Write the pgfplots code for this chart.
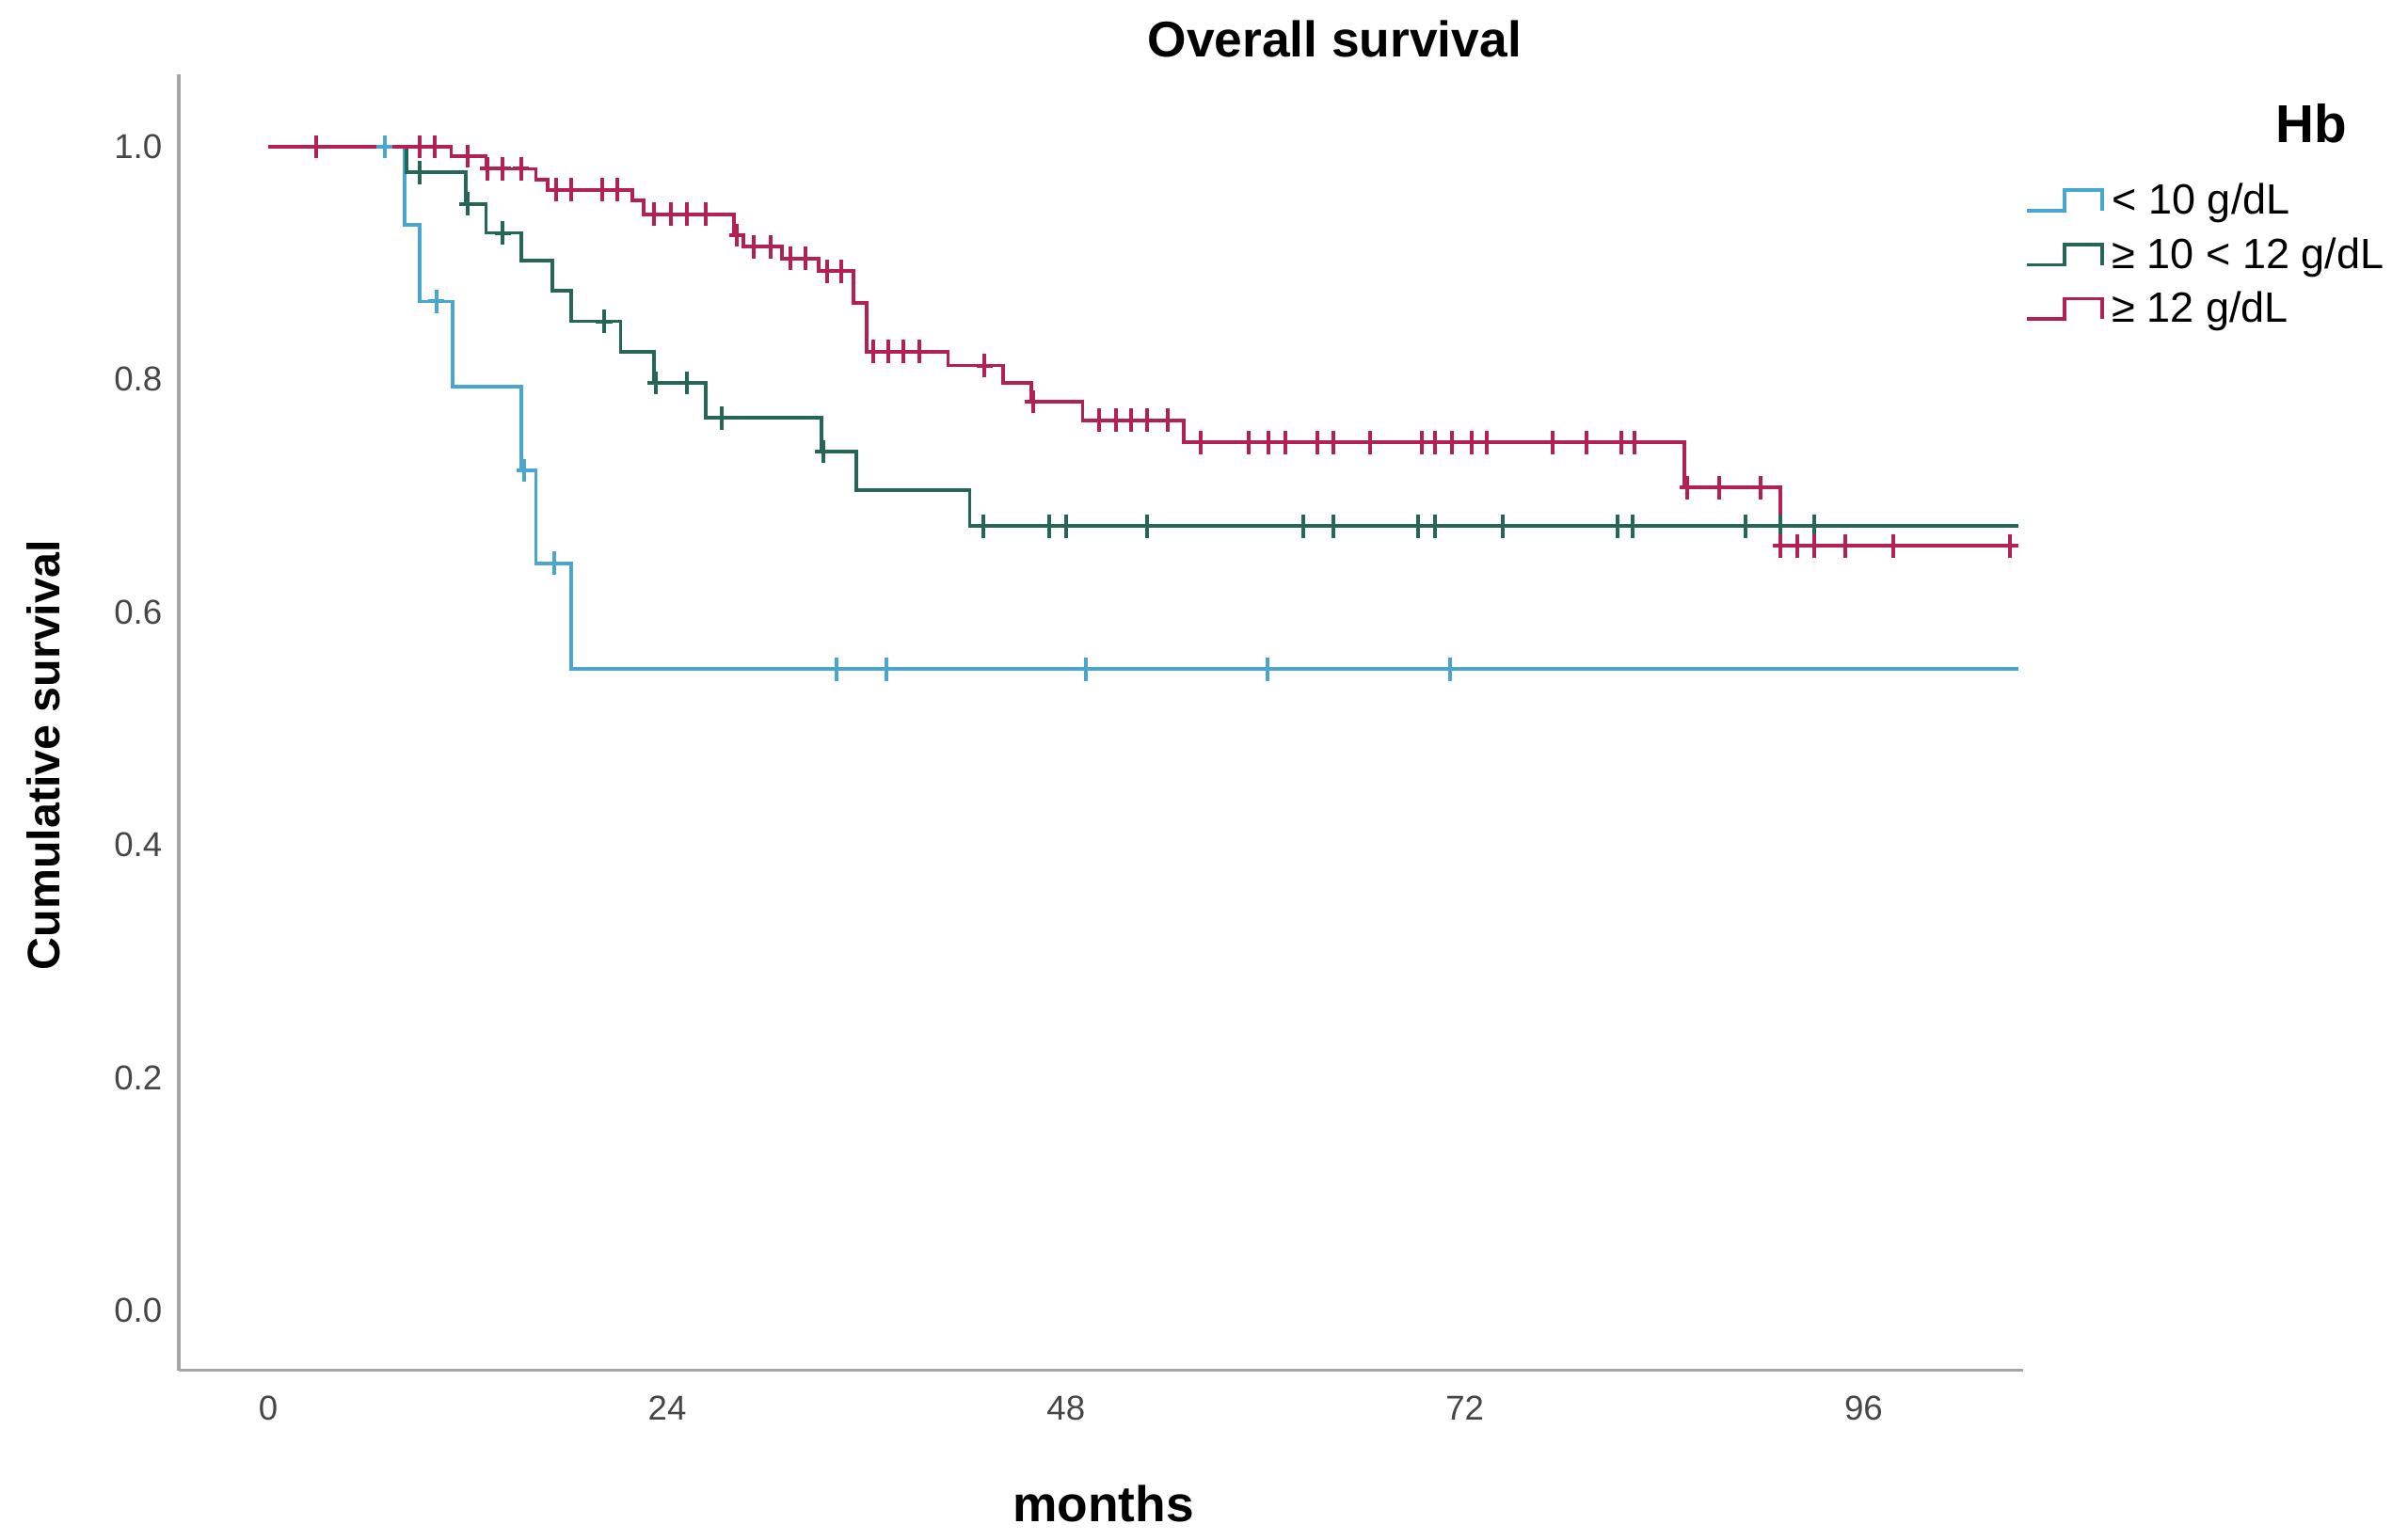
\documentclass[border=0pt]{standalone}
\usepackage{fontspec}
\setmainfont{Liberation Sans}
\usepackage{pgfplots}
\pgfplotsset{compat=1.18}
\definecolor{kmblue}{RGB}{72,166,208}
\definecolor{kmgreen}{RGB}{38,102,86}
\definecolor{kmred}{RGB}{178,32,84}
\definecolor{axgray}{RGB}{165,165,165}
\definecolor{tickgray}{RGB}{70,70,70}
\begin{document}
\begin{tikzpicture}
\path[use as bounding box] (0,0) rectangle (767.7pt,490.8pt);
\begin{axis}[
  at={(57pt,53.8pt)}, anchor=south west,
  scale only axis, width=588pt, height=413.4pt,
  xmin=-5.39, xmax=105.6, ymin=-0.0515, ymax=1.0625,
  axis lines=left,
  axis line style={-, draw=axgray, line width=1pt},
  xtick={0,24,48,72,96}, ytick={0,0.2,0.4,0.6,0.8,1.0},
  major tick length=0pt,
  tick label style={font=\fontsize{11}{13}\selectfont, text=tickgray},
  /pgf/number format/assume math mode=true,
  yticklabel style={/pgf/number format/fixed, /pgf/number format/fixed zerofill, /pgf/number format/precision=1, xshift=-1.8pt},
  xticklabel style={yshift=-4.7pt},
  legend image code/.code={
    \draw[#1] (0pt,-3.25pt) -- (12pt,-3.25pt) -- (12pt,3.25pt) -- (24pt,3.25pt) -- (24pt,-3.25pt);
  },
  legend cell align=left,
  legend style={at={(1.0011,0.9234)}, anchor=north west, draw=none, fill=none,
    inner sep=0pt, outer sep=0pt, row sep=0pt,
    font=\fontsize{13.5}{16}\selectfont,
    nodes={inner sep=0pt, text height=13pt, text depth=4.3pt},
    /tikz/every odd column/.append style={column sep=2.6pt}},
  every axis plot/.append style={line width=1.15pt},
  censor/.style={only marks, mark=+, mark size=3.7pt, mark options={xscale=0.7, line width=1.2pt}},
]
% < 10 g/dL
\addplot[kmblue, const plot] coordinates {
 (0,1.0) (8.2,0.933) (9.1,0.867) (11.1,0.794) (15.2,0.722) (16.1,0.642) (18.2,0.551) (105.3,0.551)};
\addlegendentry{< 10 g/dL}
% >= 10 < 12 g/dL
\addplot[kmgreen, const plot] coordinates {
 (0,1.0) (8.3,0.978) (11.9,0.951) (13.1,0.926) (15.2,0.902) (17.1,0.876) (18.2,0.850)
 (21.2,0.824) (23.2,0.797) (26.3,0.767) (33.3,0.738) (35.4,0.705) (42.2,0.674) (105.3,0.674)};
\addlegendentry{≥ 10 < 12 g/dL}
% >= 12 g/dL
\addplot[kmred, const plot] coordinates {
 (0,1.0) (11.0,0.992) (13.1,0.981) (16.1,0.972) (16.8,0.963) (21.9,0.954) (22.6,0.942)
 (28.0,0.924) (28.6,0.914) (30.9,0.904) (33.1,0.893) (35.2,0.866) (36.0,0.824)
 (40.9,0.812) (44.2,0.797) (45.9,0.781) (49.0,0.765) (55.1,0.746) (85.2,0.707)
 (91.0,0.657) (105.3,0.657)};
\addlegendentry{≥ 12 g/dL}
% censored
\addplot[kmblue, censor, forget plot] coordinates {
 (7.0,1.0) (10.1,0.867) (15.4,0.722) (17.2,0.642) (34.2,0.551) (37.2,0.551)
 (49.2,0.551) (60.1,0.551) (71.1,0.551)};
\addplot[kmgreen, censor, forget plot] coordinates {
 (9.1,0.978) (12.0,0.951) (14.1,0.926) (20.2,0.850) (23.3,0.797) (25.2,0.797)
 (27.3,0.767) (33.4,0.738) (43.0,0.674) (47.0,0.674) (48.0,0.674) (52.9,0.674)
 (62.3,0.674) (64.1,0.674) (69.2,0.674) (70.2,0.674) (74.3,0.674) (81.2,0.674)
 (82.1,0.674) (88.9,0.674) (91.0,0.674) (93.0,0.674)};
\addplot[kmred, censor, forget plot] coordinates {
 (2.9,1.0) (9.1,1.0) (10.0,1.0) (12.0,0.992) (13.2,0.981) (14.1,0.981) (15.2,0.981)
 (17.3,0.963) (18.2,0.963) (20.1,0.963) (21.0,0.963)
 (23.2,0.942) (24.2,0.942) (25.2,0.942) (26.3,0.942)
 (28.2,0.924) (29.2,0.914) (30.2,0.914) (31.4,0.904) (32.3,0.904) (33.6,0.893) (34.5,0.893)
 (36.4,0.824) (37.3,0.824) (38.2,0.824) (39.2,0.824) (43.1,0.812) (46.0,0.781)
 (50.0,0.765) (51.0,0.765) (51.9,0.765) (52.9,0.765) (54.1,0.765)
 (56.1,0.746) (59.0,0.746) (60.2,0.746) (61.2,0.746) (63.1,0.746) (64.1,0.746)
 (66.3,0.746) (69.4,0.746) (70.2,0.746) (71.2,0.746) (72.4,0.746) (73.3,0.746)
 (77.3,0.746) (79.3,0.746) (81.4,0.746) (82.2,0.746)
 (85.4,0.707) (87.3,0.707) (89.8,0.707)
 (91.0,0.657) (92.0,0.657) (93.0,0.657) (94.9,0.657) (97.8,0.657) (104.8,0.657)};
\end{axis}
\node[font=\fontsize{16}{19}\selectfont\bfseries] at (425.5pt,478.3pt) {Overall survival};
\node[rotate=90, font=\fontsize{14.5}{17}\selectfont\bfseries] at (13.8pt,250pt) {Cumulative survival};
\node[font=\fontsize{16}{19}\selectfont\bfseries] at (351.8pt,11.2pt) {months};
\node[font=\fontsize{17}{20}\selectfont\bfseries] at (736.8pt,451.3pt) {Hb};
\end{tikzpicture}
\end{document}
